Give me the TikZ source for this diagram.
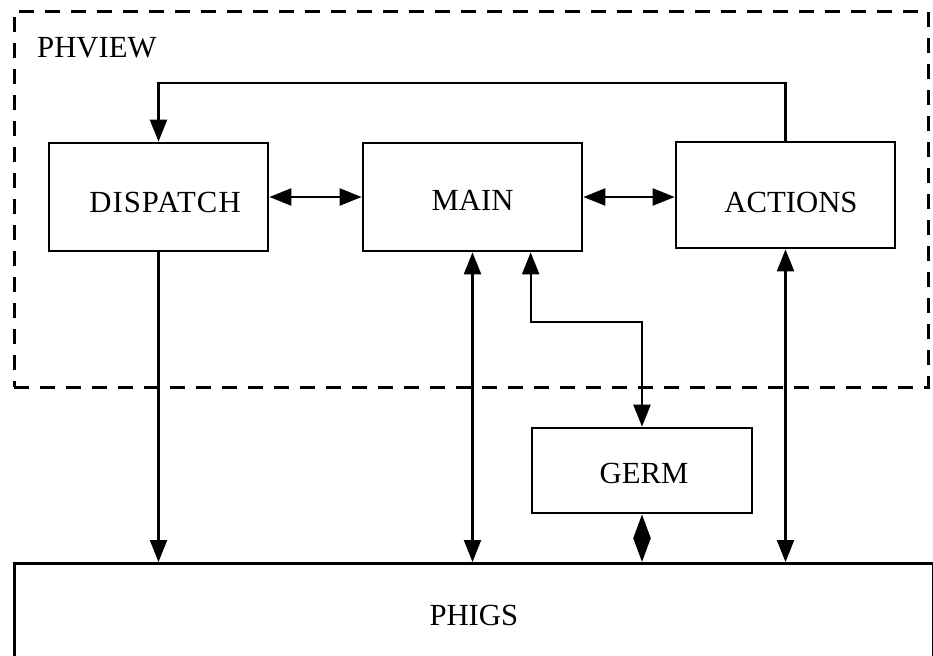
\documentclass[tikz,border=0pt]{standalone}
\usepackage{fontspec}
\setmainfont{Liberation Serif}
\newfontfamily\widefont[LetterSpace=3.5]{Liberation Serif}
\usetikzlibrary{arrows.meta,calc}

\tikzset{
  box/.style={draw, line width=2.7pt, inner sep=0pt},
  frame/.style={draw, line width=2.6pt, dash pattern=on 15pt off 11pt, inner sep=0pt},
  label/.style={inner sep=0pt, font=\fontsize{30.7}{36}\selectfont},
  conn/.style={line width=2.3pt, >={Triangle[length=22pt,width=17pt]}},
  shortconn/.style={line width=2.3pt, >={Triangle[length=24pt,width=17pt]}}
}

\begin{document}
\begin{tikzpicture}[x=1pt, y=-1pt]
  \useasboundingbox (0,0) rectangle (933,655);

  % PHVIEW group frame
  \node[frame, minimum width=914pt, minimum height=376pt, anchor=north west] (phview) at (13,10) {};
  \node[label, anchor=base west] (phviewlabel) at (37,58) {PHVIEW};

  % Module boxes
  \node[box, minimum width=219pt, minimum height=108pt] (dispatch) at (158.5,197) {};
  \node[box, minimum width=219pt, minimum height=108pt] (main) at (472.5,197) {};
  \node[box, minimum width=219pt, minimum height=106pt] (actions) at (785.5,195) {};
  \node[box, minimum width=220pt, minimum height=85pt] (germ) at (642,470.5) {};
  \node[box, minimum width=919pt, minimum height=104pt, anchor=north west] (phigs) at (13,562) {};

  % Module names
  \node[label, font=\fontsize{30.7}{36}\widefont] (dispatchtext) at ($(dispatch.center)+(6.5,5.5)$) {DISPATCH};
  \node[label] (maintext) at ($(main.center)+(0,3.5)$) {MAIN};
  \node[label] (actionstext) at ($(actions.center)+(5.5,7)$) {ACTIONS};
  \node[label] (germtext) at ($(germ.center)+(2,2.5)$) {GERM};
  \node[label] (phigstext) at (phigs.center) {PHIGS};

  % Routing levels
  \coordinate (looplevel) at (0,83);
  \coordinate (germlevel) at (0,322);

  % Connectors
  \draw[conn, ->] (actions.north) -- (actions.north |- looplevel)
      -- (dispatch.north |- looplevel) -- (dispatch.north);
  \draw[conn, <->] (dispatch.east) -- (main.west);
  \draw[conn, <->] (main.east) -- (actions.west |- main.east);
  \draw[conn, ->] (dispatch.south) -- (dispatch.south |- phigs.north);
  \draw[conn, <->] (main.south) -- (main.south |- phigs.north);
  \draw[conn, <->] (germ.west |- main.south) -- (germ.west |- germlevel)
      -- (germ.north |- germlevel) -- (germ.north);
  \draw[shortconn, <->] (germ.south) -- (germ.south |- phigs.north);
  \draw[conn, <->] (actions.south) -- (actions.south |- phigs.north);
\end{tikzpicture}
\end{document}
